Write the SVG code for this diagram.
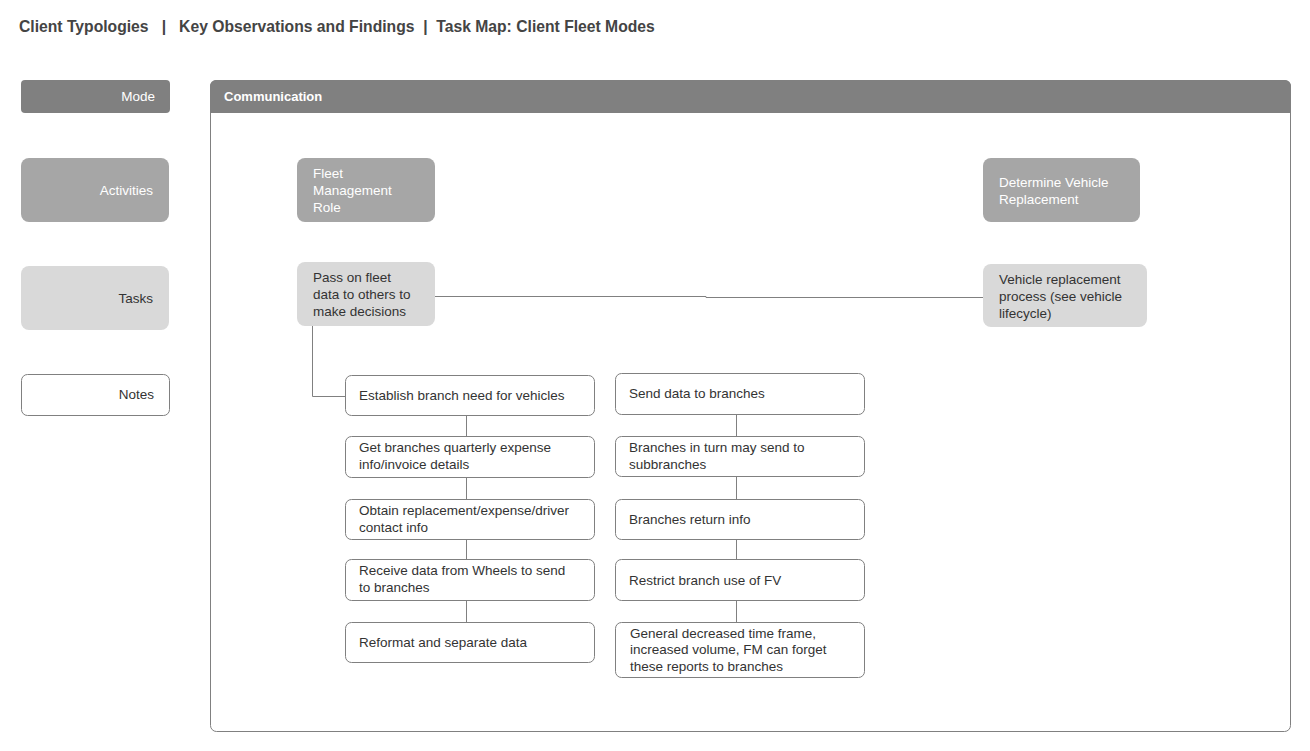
<svg xmlns="http://www.w3.org/2000/svg" width="1310" height="751" viewBox="0 0 1310 751">
  <style>
    text { font-family: "Liberation Sans", Arial, sans-serif; font-size: 13.5px; fill: #333; }
    .title { font-size: 15.7px; font-weight: bold; fill: #444; }
    .hdr { fill: #808080; }
    .act { fill: #a6a6a6; }
    .task { fill: #d9d9d9; }
    .note { fill: #fff; stroke: #808080; stroke-width: 1; }
    .wt { fill: #fff; }
    .bold { font-weight: bold; font-size: 13px; }
    .conn { fill: none; stroke: #808080; stroke-width: 1; }
  </style>

  <rect width="1310" height="751" fill="#fff"/>

  <text class="title" x="19" y="32" xml:space="preserve">Client Typologies   |   Key Observations and Findings  |  Task Map: Client Fleet Modes</text>

  <!-- row legend -->
  <g id="legend-mode">
    <rect class="hdr" x="21" y="80" width="149" height="33" rx="4"/>
    <text class="wt" x="155" y="101" text-anchor="end">Mode</text>
  </g>
  <g id="legend-activities">
    <rect class="act" x="21" y="158" width="148" height="64" rx="8"/>
    <text class="wt" x="153" y="195" text-anchor="end">Activities</text>
  </g>
  <g id="legend-tasks">
    <rect class="task" x="21" y="266" width="148" height="64" rx="8"/>
    <text x="153" y="303" text-anchor="end">Tasks</text>
  </g>
  <g id="legend-notes">
    <rect class="note" x="21.5" y="374.5" width="148" height="41" rx="6"/>
    <text x="154" y="399" text-anchor="end">Notes</text>
  </g>

  <!-- mode container -->
  <g id="mode-communication">
    <rect x="210.5" y="80.5" width="1080" height="651" rx="6" fill="#fff" stroke="#808080"/>
    <path class="hdr" d="M210,86 a6,6 0 0 1 6,-6 h1069 a6,6 0 0 1 6,6 v27 h-1081 z"/>
    <text class="wt bold" x="224" y="101">Communication</text>
  </g>

  <!-- connectors -->
  <g id="connectors">
    <path class="conn" d="M435,296.5 H706 V297.5 H983"/>
    <path class="conn" d="M312.5,326 V396.5 H345"/>
    <path class="conn" d="M466.5,415 V436 M466.5,477 V499 M466.5,539 V559 M466.5,600 V622"/>
    <path class="conn" d="M736.5,414 V436 M736.5,476 V499 M736.5,539 V559 M736.5,600 V622"/>
  </g>

  <!-- activities -->
  <g id="act-fleet-role">
    <rect class="act" x="297" y="158" width="138" height="64" rx="8"/>
    <text class="wt" x="313" y="178">Fleet</text>
    <text class="wt" x="313" y="195">Management</text>
    <text class="wt" x="313" y="212">Role</text>
  </g>
  <g id="act-vehicle-replacement">
    <rect class="act" x="983" y="158" width="157" height="64" rx="8"/>
    <text class="wt" x="999" y="187">Determine Vehicle</text>
    <text class="wt" x="999" y="204">Replacement</text>
  </g>

  <!-- tasks -->
  <g id="task-pass-data">
    <rect class="task" x="297" y="262" width="138" height="64" rx="8"/>
    <text x="313" y="282">Pass on fleet</text>
    <text x="313" y="299">data to others to</text>
    <text x="313" y="316">make decisions</text>
  </g>
  <g id="task-replacement-process">
    <rect class="task" x="983" y="264" width="164" height="63" rx="8"/>
    <text x="999" y="284">Vehicle replacement</text>
    <text x="999" y="301">process (see vehicle</text>
    <text x="999" y="318">lifecycle)</text>
  </g>

  <!-- notes, left column -->
  <g id="note-l1">
    <rect class="note" x="345.5" y="375.5" width="249" height="40" rx="6"/>
    <text x="359" y="400">Establish branch need for vehicles</text>
  </g>
  <g id="note-l2">
    <rect class="note" x="345.5" y="436.5" width="249" height="41" rx="6"/>
    <text x="359" y="452">Get branches quarterly expense</text>
    <text x="359" y="469">info/invoice details</text>
  </g>
  <g id="note-l3">
    <rect class="note" x="345.5" y="499.5" width="249" height="40" rx="6"/>
    <text x="359" y="515">Obtain replacement/expense/driver</text>
    <text x="359" y="532">contact info</text>
  </g>
  <g id="note-l4">
    <rect class="note" x="345.5" y="559.5" width="249" height="41" rx="6"/>
    <text x="359" y="575">Receive data from Wheels to send</text>
    <text x="359" y="592">to branches</text>
  </g>
  <g id="note-l5">
    <rect class="note" x="345.5" y="622.5" width="249" height="40" rx="6"/>
    <text x="359" y="647">Reformat and separate data</text>
  </g>

  <!-- notes, right column -->
  <g id="note-r1">
    <rect class="note" x="615.5" y="373.5" width="249" height="41" rx="6"/>
    <text x="629" y="398">Send data to branches</text>
  </g>
  <g id="note-r2">
    <rect class="note" x="615.5" y="436.5" width="249" height="40" rx="6"/>
    <text x="629" y="452">Branches in turn may send to</text>
    <text x="629" y="469">subbranches</text>
  </g>
  <g id="note-r3">
    <rect class="note" x="615.5" y="499.5" width="249" height="40" rx="6"/>
    <text x="629" y="524">Branches return info</text>
  </g>
  <g id="note-r4">
    <rect class="note" x="615.5" y="559.5" width="249" height="41" rx="6"/>
    <text x="629" y="585">Restrict branch use of FV</text>
  </g>
  <g id="note-r5">
    <rect class="note" x="615.5" y="622.5" width="249" height="55" rx="6"/>
    <text x="630" y="638">General decreased time frame,</text>
    <text x="630" y="654">increased volume, FM can forget</text>
    <text x="630" y="671">these reports to branches</text>
  </g>
</svg>
